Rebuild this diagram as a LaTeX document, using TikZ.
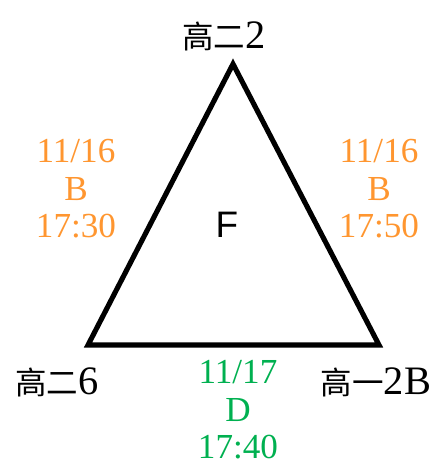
\documentclass[tikz,border=0pt]{standalone}
\usepackage{fontspec}
\setmainfont{Liberation Serif}
\newfontfamily\cjk[Scale=0.78]{Noto Sans CJK TC}
\newfontfamily\fsans{Liberation Sans}
\begin{document}
\begin{tikzpicture}[
  x=0.02cm,
  y=-0.02cm,
  vlabel/.style={font=\fontsize{23}{25}\selectfont, inner sep=0pt},
  timelabel/.style={align=center, inner sep=0pt, font=\fontsize{20}{21.3}\selectfont},
]

\definecolor{slotOrange}{RGB}{255,150,48}
\definecolor{slotGreen}{RGB}{0,176,80}

% Frame, same size as the picture
\useasboundingbox (0,0) rectangle (434,465);

% Triangle corners
\coordinate (top) at (233,64);
\coordinate (left) at (88,345);
\coordinate (right) at (379,345);
\draw[line width=2.9pt] (top) -- (right) -- (left) -- cycle;

% Class at each corner
\node[vlabel] (c2) at (224,36) {{\cjk 高二}2};
\node[vlabel] (c6) at (57,382) {{\cjk 高二}6};
\node[vlabel] (c2B) at (376,382) {{\cjk 高一}2B};

% Centre letter
\node[font=\fsans\fontsize{21}{23}\selectfont, inner sep=0pt] (F) at (227,225) {F};

% Match slots along the sides
\node[timelabel, text=slotOrange] (sL) at (76,189) {11/16\\B\\17:30};
\node[timelabel, text=slotOrange] (sR) at (379,189) {11/16\\B\\17:50};
\node[timelabel, text=slotGreen] (sB) at (238,410) {11/17\\D\\17:40};

\end{tikzpicture}
\end{document}
